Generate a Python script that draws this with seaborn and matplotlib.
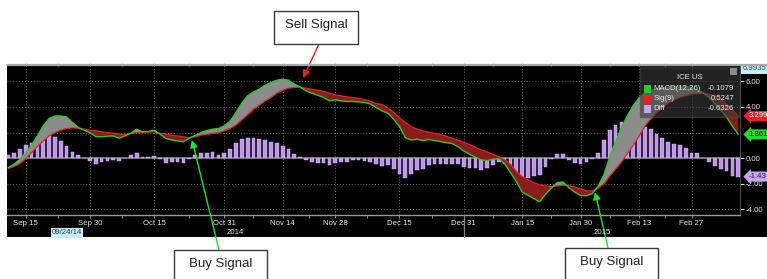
import numpy as np
import pandas as pd
import seaborn as sns
import matplotlib
matplotlib.use("Agg")
from matplotlib import pyplot as plt
from matplotlib.patches import Rectangle
from matplotlib.lines import Line2D
import matplotlib.transforms as mtransforms

# ---------------------------------------------------------------
# data (one value per trading day)
# ---------------------------------------------------------------
start_date = "2014-09-10"
end_date = "2015-03-11"
market_holidays = ["2014-11-27", "2014-12-25", "2015-01-01", "2015-01-19", "2015-02-16"]

macd = [
    -0.73, -0.47, -0.08, 0.44, 1.02, 1.74, 2.53, 3.1, 3.3, 3.3, 3.23, 2.79, 2.4, 2.19, 2.0, 1.69,
    1.67, 1.72, 1.74, 1.56, 1.74, 1.95, 2.27, 2.06, 2.08, 2.19, 1.88, 1.54, 1.43, 1.35, 1.28, 1.56, 1.78,
    2.0, 2.16, 2.27, 2.32, 2.53, 2.89, 3.57, 4.3, 4.87, 5.18, 5.39, 5.7, 5.91, 6.09, 6.17, 6.09,
    5.78, 5.57, 5.26, 5.08, 4.92, 4.74, 4.48, 4.56, 4.48, 4.43, 4.43, 4.4, 4.35, 4.24,
    3.96, 3.7, 3.52, 3.05, 2.47, 1.61, 1.43, 1.48, 1.38, 1.46, 1.38, 1.3, 1.22, 1.15, 0.91, 0.57,
    0.31, 0.08, -0.13, -0.18, -0.08, -0.03, -0.42, -1.12, -1.82, -2.63, -2.89, -3.15, -3.39, -2.81, -2.34, -1.9,
    -1.85, -2.3, -2.65, -2.9, -2.93, -2.75, -2.2, -1.3, 0.1, 1.3, 2.4, 3.3, 4.1, 4.7, 5.1, 5.3,
    5.4, 5.48, 5.55, 5.6, 5.62, 5.6, 5.5, 5.35, 5.1, 4.75, 4.25, 3.75, 3.2, 2.5, 1.86,
]

sig = [
    -0.8, -0.65, -0.42, -0.03, 0.44, 0.91, 1.35, 1.74, 2.0, 2.19, 2.32, 2.37, 2.34, 2.27, 2.19, 2.14,
    2.06, 2.0, 1.95, 1.88, 1.85, 1.93, 2.0, 2.03, 2.06, 2.06, 1.95, 1.88, 1.8, 1.74, 1.67, 1.61, 1.67,
    1.8, 1.88, 1.93, 2.0, 2.14, 2.32, 2.58, 2.99, 3.39, 3.83, 4.14, 4.48, 4.74, 5.08, 5.31, 5.47,
    5.52, 5.52, 5.47, 5.39, 5.31, 5.21, 5.08, 4.95, 4.87, 4.79, 4.74, 4.66, 4.58, 4.45,
    4.28, 4.19, 3.93, 3.57, 3.15, 2.79, 2.47, 2.27, 2.14, 2.03, 1.95, 1.85, 1.72, 1.56, 1.41, 1.25,
    1.07, 0.86, 0.65, 0.49, 0.31, 0.13, -0.13, -0.47, -1.02, -1.43, -1.69, -1.9, -2.08, -2.16, -2.21, -2.16,
    -2.11, -2.15, -2.25, -2.4, -2.55, -2.55, -2.35, -2.0, -1.4, -0.85, -0.3, 0.35, 1.0, 1.7, 2.5, 3.05,
    3.55, 3.95, 4.3, 4.55, 4.75, 4.88, 5.0, 5.05, 5.05, 5.0, 4.85, 4.6, 4.2, 3.8, 3.3,
]

diff = [
    0.23, 0.39, 0.75, 1.0, 1.22, 1.56, 1.87, 2.0, 1.67, 1.35, 0.96, 0.5, 0.23, 0.05, -0.2, -0.47,
    -0.3, -0.2, -0.1, -0.18, 0.0, 0.25, 0.38, 0.12, 0.12, 0.18, -0.03, -0.36, -0.28, -0.28, -0.34, -0.08, 0.23,
    0.39, 0.44, 0.5, 0.29, 0.44, 0.7, 1.22, 1.48, 1.61, 1.56, 1.48, 1.43, 1.3, 1.17, 0.96, 0.7,
    0.31, 0.08, -0.13, -0.29, -0.34, -0.39, -0.55, -0.34, -0.31, -0.29, -0.16, -0.13, -0.23, -0.29,
    -0.42, -0.6, -0.55, -0.86, -1.2, -1.51, -1.25, -0.91, -0.81, -0.55, -0.47, -0.47, -0.47, -0.42, -0.47, -0.65,
    -0.76, -0.78, -0.94, -0.78, -0.49, -0.29, -0.47, -0.94, -1.33, -1.64, -1.51, -1.38, -1.33, -0.7, -0.08, 0.31,
    0.3, -0.13, -0.39, -0.47, -0.29, -0.03, 0.44, 1.43, 2.19, 2.58, 2.79, 2.86, 2.92, 2.73, 2.4, 2.27,
    1.88, 1.61, 1.28, 1.09, 1.02, 0.78, 0.44, 0.44, 0.05, -0.29, -0.6, -0.86, -0.99, -1.38, -1.43,
]

tick_dates = ["2014-09-15", "2014-09-30", "2014-10-15", "2014-10-31", "2014-11-14", "2014-11-28",
              "2014-12-15", "2014-12-31", "2015-01-15", "2015-01-30", "2015-02-13", "2015-02-27"]
y_ticks = [-4, -2, 0, 4, 6]
y_tick_labels = ["-4.00", "-2.00", "0.00", "4.00", "6.00"]

legend_names = ["MACD(12,26)", "Sig(9)", "Diff"]
legend_values = ["-0.1079", "0.5247", "-0.6326"]
last_labels = ["6.9935", "3.299", "1.861", "-1.43"]
last_values = [6.9935, 3.299, 1.861, -1.43]

# ---------------------------------------------------------------
dates = pd.bdate_range(start_date, end_date, freq="C", holidays=market_holidays)[:len(macd)]
df = pd.DataFrame({"i": np.arange(len(macd)), "date": dates, "macd": macd, "sig": sig, "diff": diff})

W, H = 767, 279
sns.set_theme(style="white")
plt.rcParams["font.family"] = ["Liberation Sans", "DejaVu Sans"]

fig = plt.figure(figsize=(W / 100, H / 100), dpi=100, facecolor="white")


def fx(x):
    return x / W


def fy(y):
    return 1 - y / H


# black bloomberg panel behind the axes
fig.patches.append(Rectangle((fx(7), fy(237)), fx(767) - fx(7), fy(64) - fy(237),
                             transform=fig.transFigure, facecolor="black", edgecolor="none", zorder=-10))
fig.add_artist(Line2D([fx(7), 1], [fy(64.5), fy(64.5)], color="#a8a8a8", lw=1.6, zorder=1))

ax = fig.add_axes([fx(7), fy(215), fx(740) - fx(7), fy(66) - fy(215)])
ax.set_facecolor("black")

GREEN = "#2ec82e"
RED = "#e02424"
BAR = "#bd96ec"

# grid
ax.axhline(0, color="#8a8a8a", lw=1.1, zorder=1)
for v in [-4, -2, 2, 4, 6]:
    ax.axhline(v, color="#6a6a6a", lw=0.7, ls=(0, (1, 2)), zorder=1)
tick_pos = dates.get_indexer(pd.to_datetime(tick_dates))
for p in tick_pos:
    ax.axvline(p, color="#6a6a6a", lw=0.7, ls=(0, (1, 2)), zorder=1)

# histogram
sns.barplot(data=df, x="i", y="diff", ax=ax, color=BAR, native_scale=True, width=0.64,
            errorbar=None, saturation=1, edgecolor="#dcc2f8", linewidth=0.3, zorder=2)

# shaded area between the two lines
ax.fill_between(df["i"], df["macd"], df["sig"], where=df["macd"] >= df["sig"],
                interpolate=True, color="#8c8c8c", lw=0, zorder=3)
ax.fill_between(df["i"], df["macd"], df["sig"], where=df["macd"] < df["sig"],
                interpolate=True, color="#8a1c1c", lw=0, zorder=3)

sns.lineplot(data=df, x="i", y="sig", ax=ax, color=RED, lw=0.9, zorder=4)
sns.lineplot(data=df, x="i", y="macd", ax=ax, color=GREEN, lw=1.0, zorder=5)

ax.set_xlim(-0.2, 125.3)
ax.set_ylim(-4.43, 7.2)
ax.set_xlabel("")
ax.set_ylabel("")

# x axis (dates)
ax.set_xticks(tick_pos)
ax.set_xticklabels([d.strftime("%b %d") for d in dates[tick_pos]])
mid = [(a + b) / 2 for a, b in zip(tick_pos[:-1], tick_pos[1:])]
ax.set_xticks(mid, minor=True)
ax.tick_params(axis="x", which="both", colors="#b0b0b0", labelcolor="#e6e6e6", labelsize=5.6,
               length=2, width=0.6, pad=1.5, direction="out", top=True, bottom=True)

# y axis on the right
ax.yaxis.tick_right()
ax.set_yticks(y_ticks)
ax.set_yticklabels(y_tick_labels)
ax.tick_params(axis="y", colors="#e0e0e0", labelsize=5.6, length=3, width=0.8, pad=1)
ax.grid(False)

for side in ["left", "top"]:
    ax.spines[side].set_visible(False)
ax.spines["bottom"].set_color("#9a9a9a")
ax.spines["bottom"].set_linewidth(1)
ax.spines["right"].set_color("#5a5a5a")
ax.spines["right"].set_linewidth(0.6)

# year separator in the date strip + year labels
ax.plot([78, 78], [0, -22 / 149], transform=mtransforms.blended_transform_factory(ax.transData, ax.transAxes),
        color="#8a8a8a", lw=0.8, clip_on=False)
fig.text(fx(235), fy(232), "2014", color="#e0e0e0", fontsize=5.6, ha="center", va="center")
fig.text(fx(602), fy(232), "2015", color="#e0e0e0", fontsize=5.6, ha="center", va="center")
fig.text(fx(67), fy(233), "09/24/14", color="#1e3f66", fontsize=5.6, ha="center", va="center",
         bbox=dict(boxstyle="square,pad=0.15", fc="#c6edf2", ec="none"))

# legend box (Bloomberg style)
ax.add_patch(Rectangle((0.8636, 0.658), 0.1364, 0.335, transform=ax.transAxes,
                       facecolor="#3a3a3a", edgecolor="#4a4a4a", alpha=0.6, zorder=6))
ax.add_patch(Rectangle((0.986, 0.94), 0.0095, 0.045, transform=ax.transAxes,
                       facecolor="#8a8a8a", edgecolor="none", zorder=7))
ax.text(0.932, 0.92, "ICE US", transform=ax.transAxes, color="#e8e8e8", fontsize=5.6,
        ha="center", va="center", zorder=7)
for k, (name, val, col) in enumerate(zip(legend_names, legend_values, [GREEN, "#ff1a1a", "#caa2f2"])):
    yy = 0.846 - k * 0.067
    ax.add_patch(Rectangle((0.8695, yy - 0.026), 0.0095, 0.052, transform=ax.transAxes,
                           facecolor=col, edgecolor="none", zorder=7))
    ax.text(0.882, yy, name, transform=ax.transAxes, color="#e8e8e8", fontsize=5.6,
            ha="left", va="center", zorder=7)
    ax.text(0.992, yy, val, transform=ax.transAxes, color="#e8e8e8", fontsize=5.6,
            ha="right", va="center", zorder=7)

# last-value flags on the right axis
trans = mtransforms.blended_transform_factory(ax.transAxes, ax.transData)
flag_style = [("#c6edf2", "#1e3f66", "square"), ("#e8202a", "white", "larrow"),
              ("#22dd22", "black", "larrow"), ("#c9a2f0", "#202020", "larrow")]
for lab, val, (bg, fg, bs) in zip(last_labels, last_values, flag_style):
    ax.text(1.004 if bs == "square" else 1.012, val, lab, transform=trans, color=fg, fontsize=5.6,
            ha="left", va="center", zorder=8, clip_on=False,
            bbox=dict(boxstyle=bs + ",pad=0.2", fc=bg, ec="none"))

# signal annotations
BOX_FONT = 9.5
for (x0, y0, x1, y1), label in [((274, 11, 358, 44), "Sell Signal"),
                                ((174, 250, 267, 285), "Buy Signal"),
                                ((565, 248, 658, 285), "Buy Signal")]:
    fig.patches.append(Rectangle((fx(x0), fy(y1)), fx(x1) - fx(x0), fy(y0) - fy(y1),
                                 transform=fig.transFigure, facecolor="white",
                                 edgecolor="#3a3a3a", lw=1.0, zorder=2))
    fig.text(fx((x0 + x1) / 2), fy(min(y0 + 14, (y0 + y1) / 2)), label, fontsize=BOX_FONT,
             color="#202020", ha="center", va="center", zorder=3)

arrow_list = [((319, 44), (303, 78), RED), ((219, 250), (192, 140), "#22e022"),
              ((608, 248), (595, 192), "#22e022")]
for (xs, ys), (xe, ye), col in arrow_list:
    ax.annotate("", xy=(fx(xe), fy(ye)), xytext=(fx(xs), fy(ys)), xycoords="figure fraction",
                textcoords="figure fraction", annotation_clip=False,
                arrowprops=dict(arrowstyle="-|>", color=col, lw=1.0, mutation_scale=11,
                                shrinkA=0, shrinkB=0), zorder=9)

plt.savefig("out.png", dpi=100, facecolor="white")
